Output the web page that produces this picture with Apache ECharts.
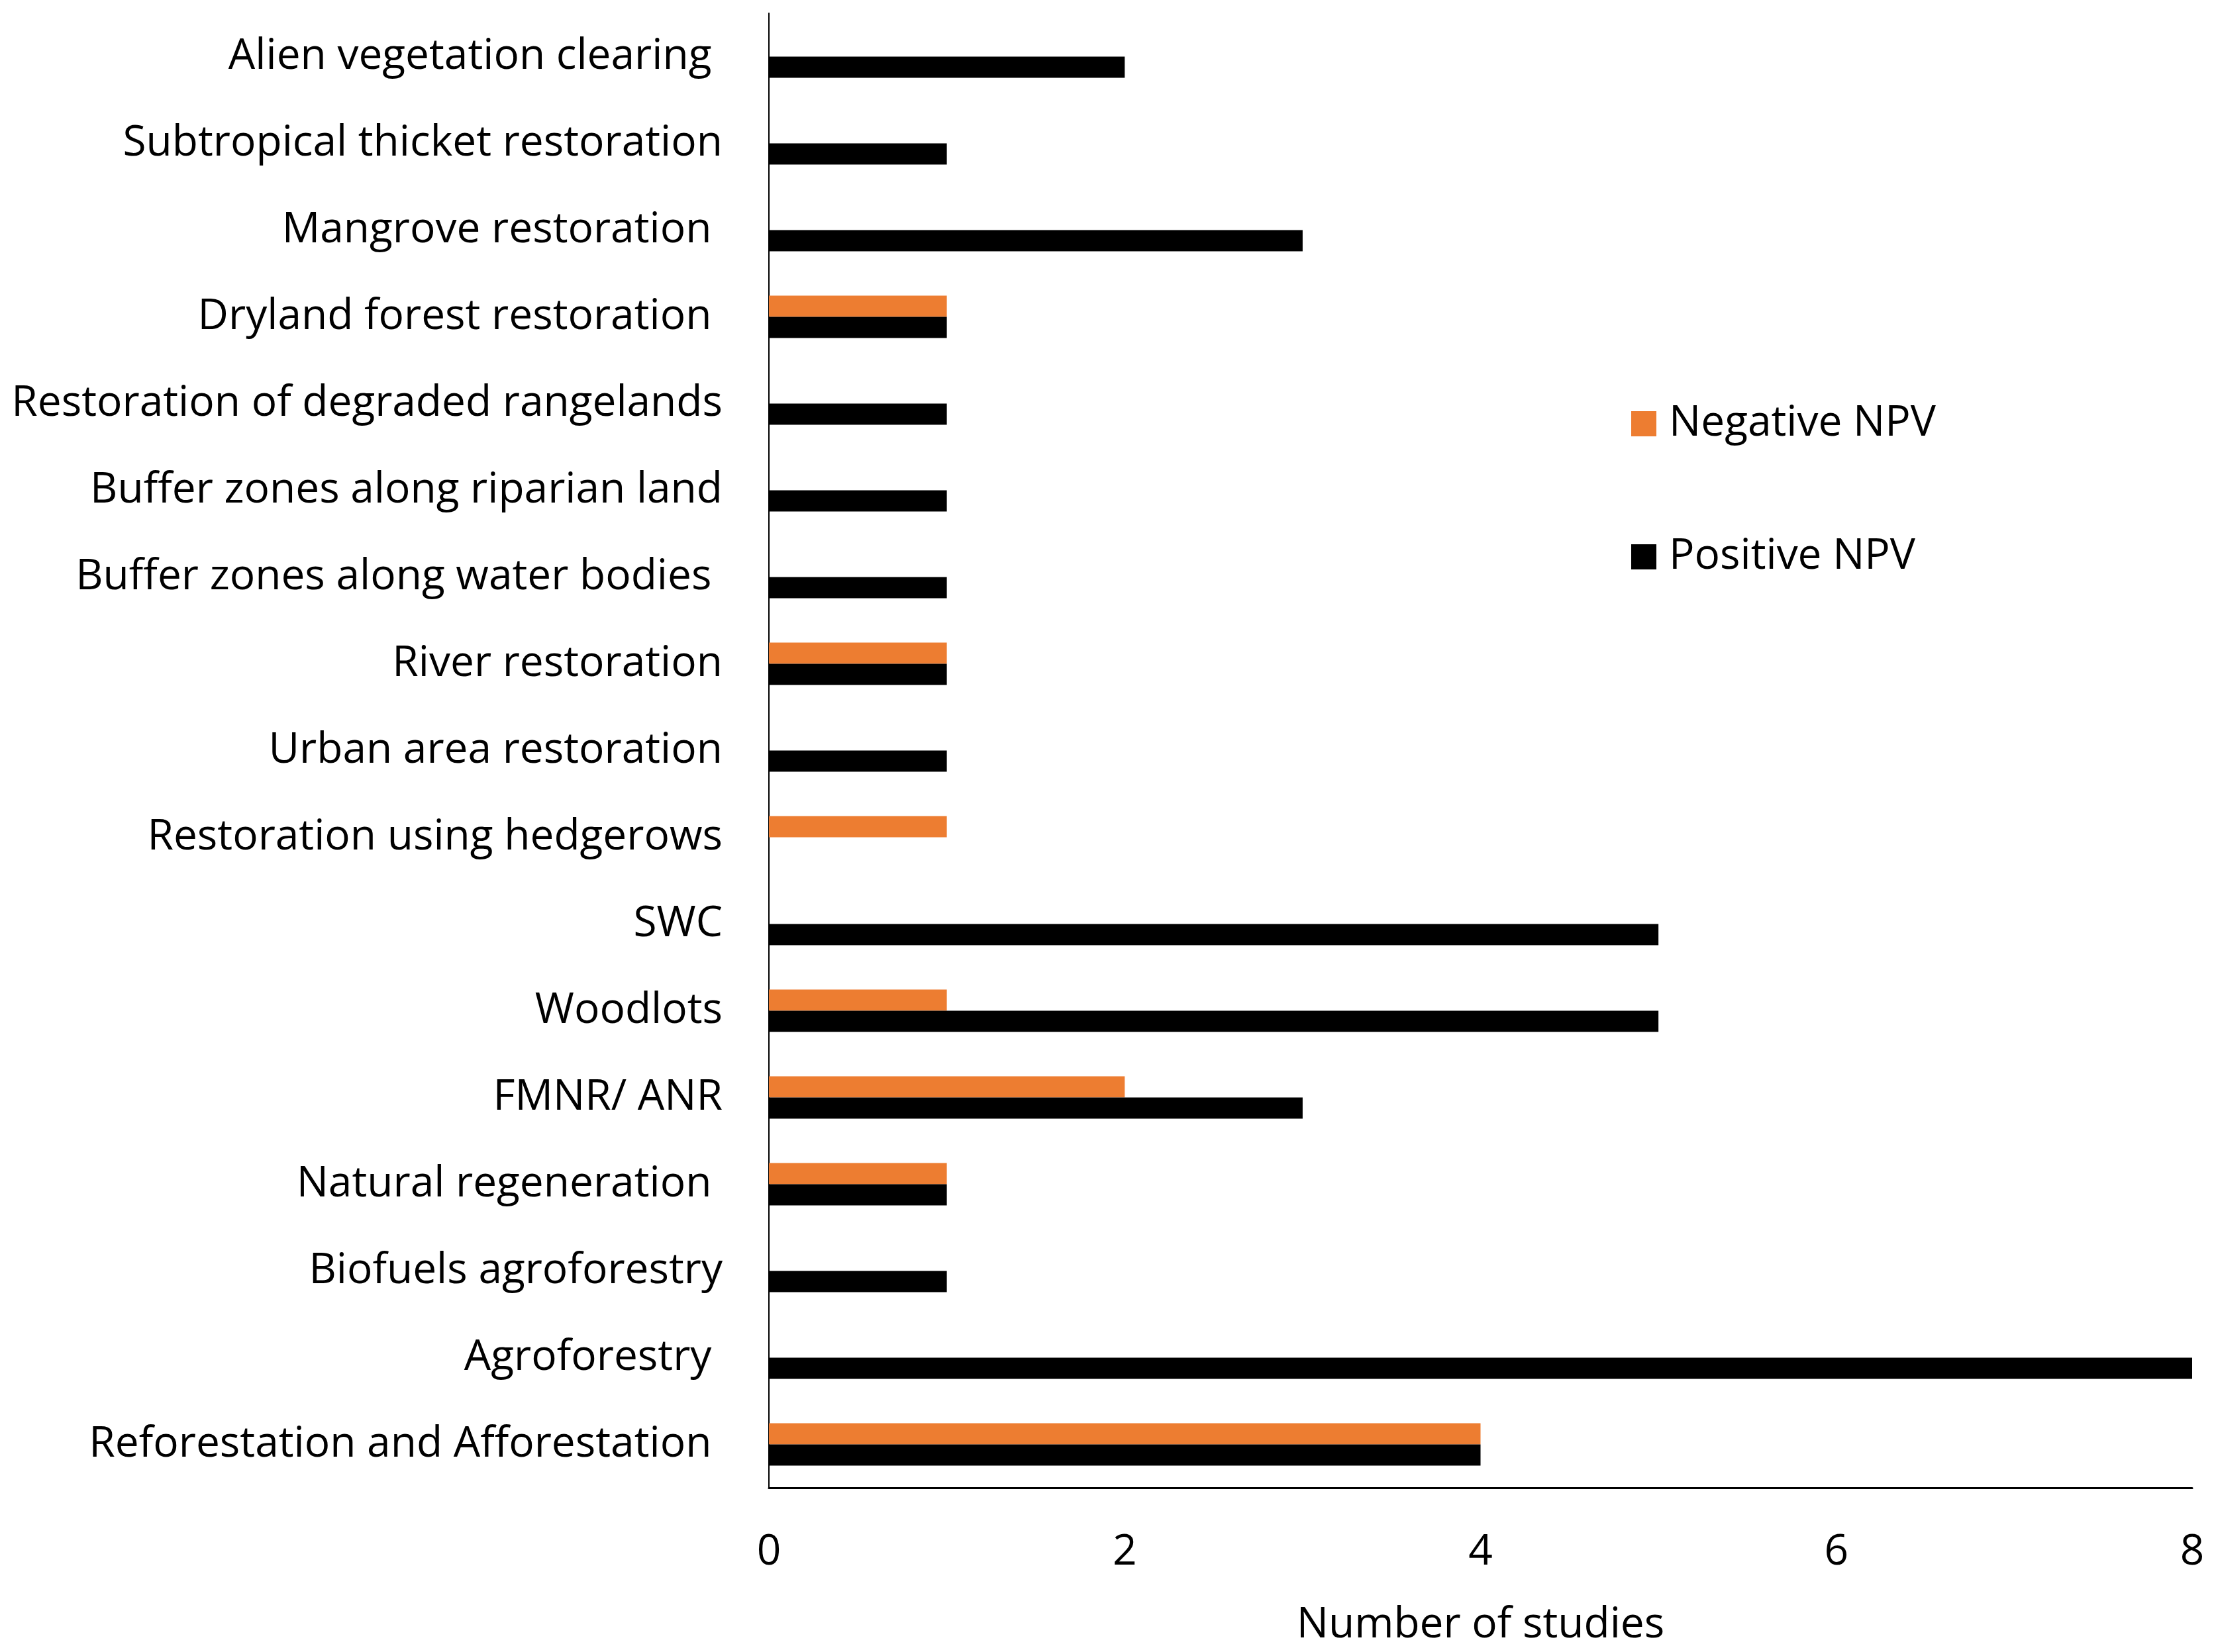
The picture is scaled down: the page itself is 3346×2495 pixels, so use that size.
<!DOCTYPE html>
<html>
  <head>
    <meta charset="UTF-8" />
    <title></title>
    <style type="text/css">
      html,
      body {
        width: 100%;
        height: 100%;
        margin: 0;
        padding: 0;
        overflow: hidden;
        background: #fff;
      }
      #chart {
        width: 100%;
        height: 100%;
      }
    </style>
  </head>
  <body>
    <div id="chart"></div>
    <script src="https://cdn.jsdelivr.net/npm/echarts@6/dist/echarts.min.js"></script>
    <script type="text/javascript">
      // categories top to bottom, as in the figure
      const categories = [
        "Alien vegetation clearing ",
        "Subtropical thicket restoration",
        "Mangrove restoration ",
        "Dryland forest restoration ",
        "Restoration of degraded rangelands",
        "Buffer zones along riparian land",
        "Buffer zones along water bodies ",
        "River restoration",
        "Urban area restoration",
        "Restoration using hedgerows",
        "SWC",
        "Woodlots",
        "FMNR/ ANR",
        "Natural regeneration ",
        "Biofuels agroforestry",
        "Agroforestry ",
        "Reforestation and Afforestation ",
      ];
      const negativeNPV = [0, 0, 0, 1, 0, 0, 0, 1, 0, 1, 0, 1, 2, 1, 0, 0, 4];
      const positiveNPV = [2, 1, 3, 1, 1, 1, 1, 1, 1, 0, 5, 5, 3, 1, 1, 8, 4];
      const xTicks = [0, 2, 4, 6, 8];

      const font = "Open Sans";
      const fs = 64;
      const chart = echarts.init(document.getElementById("chart"));

      const option = {
        backgroundColor: "#ffffff",
        animation: false,
        grid: {
          left: 1161,
          right: 36,
          top: 20,
          bottom: 248,
          containLabel: false,
        },
        legend: {
          orient: "vertical",
          left: 2458,
          top: 603,
          itemWidth: 38,
          itemHeight: 38,
          itemGap: 137,
          icon: "rect",
          data: ["Negative NPV", "Positive NPV"],
          textStyle: {
            fontFamily: font,
            fontSize: fs,
            color: "#000",
            padding: [0, 0, 0, 14],
          },
        },
        xAxis: {
          type: "value",
          min: xTicks[0],
          max: xTicks[xTicks.length - 1],
          interval: 2,
          name: "Number of studies",
          nameLocation: "middle",
          nameGap: 176,
          nameTextStyle: {
            fontFamily: font,
            fontSize: fs,
            color: "#000",
          },
          axisLine: {
            show: true,
            lineStyle: { color: "#000", width: 3 },
          },
          axisTick: { show: false },
          splitLine: { show: false },
          axisLabel: {
            fontFamily: font,
            fontSize: fs,
            color: "#000",
            margin: 66,
          },
        },
        yAxis: {
          type: "category",
          inverse: true,
          data: categories,
          axisLine: {
            show: true,
            lineStyle: { color: "#000", width: 2 },
          },
          axisTick: { show: false },
          axisLabel: {
            fontFamily: font,
            fontSize: fs,
            color: "#000",
            margin: 70,
            padding: [8, 0, 0, 0],
          },
        },
        series: [
          {
            name: "Negative NPV",
            type: "bar",
            data: negativeNPV,
            barWidth: 32,
            barGap: "0%",
            itemStyle: { color: "#ED7D31" },
          },
          {
            name: "Positive NPV",
            type: "bar",
            data: positiveNPV,
            barWidth: 32,
            barGap: "0%",
            itemStyle: { color: "#000000" },
          },
        ],
      };
      chart.setOption(option);
    </script>
  </body>
</html>
